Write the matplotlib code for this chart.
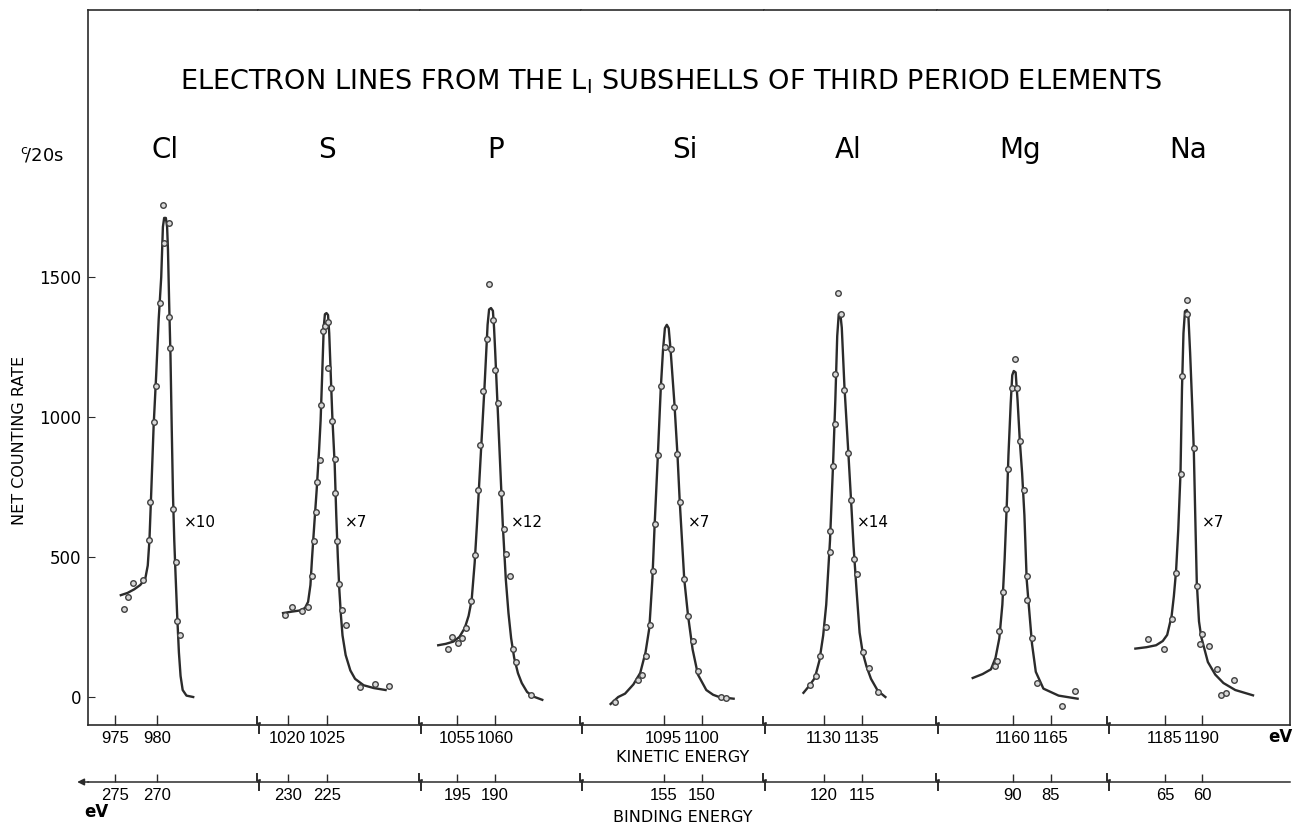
import matplotlib.pyplot as plt
from matplotlib.lines import Line2D

# elements, left to right
elements = ["Cl", "S", "P", "Si", "Al", "Mg", "Na"]
factors = ["×10", "×7", "×12", "×7", "×14", "", "×7"]
label_ke = [980.95, 1025.0, 1060.0, 1097.8, 1133.2, 1160.9, 1188.1]
factor_ke = [983.2, 1027.3, 1062.1, 1098.2, 1134.4, None, 1190.0]

# kinetic energy window shown for each element (eV)
ke_ranges = [(971.8, 992.0), (1016.2, 1036.9), (1050.1, 1071.3), (1084.1, 1108.2),
             (1122.1, 1144.9), (1150.0, 1172.5), (1177.3, 1201.9)]
ke_ticks = [[975, 980], [1020, 1025], [1055, 1060], [1095, 1100],
            [1130, 1135], [1160, 1165], [1185, 1190]]
be_ticks = [[275, 270], [230, 225], [195, 190], [155, 150],
            [120, 115], [90, 85], [65, 60]]
photon = 1250  # binding = photon - kinetic

# fitted curves (kinetic energy, counts)
cl_curve = [(975.7, 364), (976.5, 372), (977.3, 385), (978.0, 400), (978.6, 422), (978.9, 470),
            (979.1, 560), (979.3, 720), (979.6, 970), (979.9, 1150), (980.2, 1350), (980.5, 1500),
            (980.7, 1680), (980.85, 1712), (981.05, 1712), (981.2, 1680), (981.3, 1600),
            (981.45, 1400), (981.6, 1220), (981.75, 960), (981.9, 720), (982.05, 560),
            (982.2, 440), (982.4, 290), (982.6, 160), (982.8, 75), (983.05, 25), (983.5, 5),
            (984.3, 0)]
s_curve = [(1019.4, 300), (1020.5, 305), (1021.5, 309), (1022.2, 318), (1022.6, 340),
           (1022.9, 400), (1023.1, 494), (1023.4, 620), (1023.7, 741), (1024.0, 880),
           (1024.2, 988), (1024.4, 1150), (1024.6, 1321), (1024.75, 1368), (1024.95, 1372),
           (1025.15, 1365), (1025.3, 1300), (1025.5, 1150), (1025.7, 1000), (1026.0, 830),
           (1026.2, 650), (1026.4, 500), (1026.6, 380), (1026.8, 290), (1027.0, 220),
           (1027.4, 150), (1028.0, 95), (1028.6, 65), (1029.7, 42), (1031.0, 32), (1032.5, 25)]
p_curve = [(1052.5, 185), (1053.5, 190), (1054.5, 198), (1055.3, 215), (1056.0, 247),
           (1056.5, 290), (1056.9, 346), (1057.3, 480), (1057.6, 617), (1058.1, 864),
           (1058.6, 1111), (1059.0, 1330), (1059.2, 1385), (1059.45, 1390), (1059.7, 1380),
           (1059.85, 1320), (1060.0, 1235), (1060.5, 926), (1061.0, 617), (1061.4, 420),
           (1061.75, 300), (1062.1, 210), (1062.5, 140), (1063.0, 85), (1063.5, 50),
           (1064.2, 18), (1065.0, 2), (1066.2, -10)]
si_curve = [(1088.0, -25), (1089.0, 0), (1089.9, 12), (1091.0, 45), (1091.9, 86), (1092.6, 160),
            (1093.1, 247), (1093.5, 420), (1093.8, 617), (1094.2, 850), (1094.6, 1100),
            (1094.9, 1240), (1095.15, 1318), (1095.4, 1330), (1095.65, 1318), (1095.9, 1240),
            (1096.4, 1050), (1096.8, 868), (1097.1, 700), (1097.7, 420), (1098.2, 290),
            (1098.8, 170), (1099.5, 80), (1100.6, 25), (1101.5, 8), (1102.3, 0), (1104.2, -6)]
al_curve = [(1127.3, 15), (1128.0, 38), (1128.8, 68), (1129.4, 130), (1129.9, 220),
            (1130.3, 330), (1130.8, 560), (1131.2, 830), (1131.5, 1060), (1131.75, 1290),
            (1131.95, 1368), (1132.15, 1372), (1132.35, 1320), (1132.7, 1110), (1133.2, 880),
            (1133.6, 690), (1133.9, 540), (1134.3, 380), (1134.7, 230), (1135.1, 160),
            (1135.6, 110), (1136.2, 65), (1137.1, 22), (1138.1, 0)]
mg_curve = [(1154.7, 68), (1156.0, 82), (1157.1, 99), (1157.7, 140), (1158.2, 210),
            (1158.6, 330), (1158.9, 494), (1159.2, 700), (1159.4, 864), (1159.7, 1050),
            (1159.9, 1150), (1160.1, 1165), (1160.35, 1160), (1160.6, 1060), (1160.9, 914),
            (1161.2, 800), (1161.5, 650), (1161.8, 420), (1162.1, 320), (1162.5, 190),
            (1163.0, 90), (1164.0, 30), (1166.0, 5), (1168.5, -6)]
na_curve = [(1181.0, 173), (1182.5, 178), (1183.8, 185), (1184.7, 200), (1185.3, 222),
            (1185.9, 290), (1186.2, 360), (1186.5, 450), (1186.8, 600), (1187.1, 800),
            (1187.3, 1100), (1187.5, 1300), (1187.7, 1378), (1187.95, 1383), (1188.15, 1370),
            (1188.4, 1230), (1188.7, 1030), (1188.9, 880), (1189.1, 640), (1189.3, 410),
            (1189.6, 270), (1189.9, 215), (1190.4, 165), (1190.8, 125), (1191.8, 80),
            (1192.9, 50), (1194.5, 25), (1196.9, 6)]

# measured points (kinetic energy, counts)
cl_pts = [(976.1, 315), (976.5, 358), (977.2, 407), (978.3, 417), (979.1, 562), (979.2, 698),
          (979.6, 981), (979.9, 1111), (980.4, 1407), (980.8, 1623), (980.7, 1759),
          (981.4, 1694), (981.4, 1358), (981.6, 1247), (981.9, 673), (982.2, 484),
          (982.4, 272), (982.7, 220)]
s_pts = [(1019.7, 294), (1020.6, 323), (1021.8, 309), (1022.6, 323), (1023.1, 432),
         (1023.4, 556), (1023.6, 660), (1023.8, 768), (1024.1, 846), (1024.2, 1043),
         (1024.5, 1309), (1024.7, 1327), (1025.1, 1340), (1025.2, 1175), (1025.5, 1105),
         (1025.7, 988), (1026.0, 849), (1026.1, 728), (1026.3, 556), (1026.5, 405),
         (1026.9, 311), (1027.4, 259), (1029.2, 35), (1031.1, 46), (1032.9, 41)]
p_pts = [(1053.85, 170), (1054.35, 216), (1055.15, 194), (1055.6, 210), (1056.1, 247),
         (1056.85, 343), (1057.35, 506), (1057.75, 741), (1058.0, 901), (1058.4, 1093),
         (1058.9, 1278), (1059.15, 1475), (1059.75, 1346), (1060.0, 1167), (1060.4, 1049),
         (1060.75, 728), (1061.1, 599), (1061.4, 512), (1061.9, 432), (1062.35, 173),
         (1062.75, 126), (1064.75, 6)]
si_pts = [(1088.6, -19), (1091.6, 62), (1092.1, 80), (1092.7, 148), (1093.2, 259),
          (1093.6, 451), (1093.8, 620), (1094.2, 864), (1094.6, 1111), (1095.1, 1249),
          (1096.0, 1244), (1096.4, 1037), (1096.8, 868), (1097.1, 698), (1097.7, 420),
          (1098.2, 290), (1098.8, 200), (1099.5, 93), (1102.6, 0), (1103.2, -2)]
al_pts = [(1128.2, 43), (1129.0, 74), (1129.5, 148), (1130.3, 249), (1130.8, 593),
          (1130.8, 519), (1131.2, 827), (1131.5, 975), (1131.5, 1154), (1131.8, 1444),
          (1132.2, 1368), (1132.7, 1096), (1133.2, 871), (1133.6, 704), (1133.9, 494),
          (1134.4, 438), (1135.1, 160), (1136.0, 105), (1137.1, 19)]
mg_pts = [(1157.6, 111), (1157.9, 130), (1158.2, 235), (1158.7, 377), (1159.1, 673),
          (1159.4, 815), (1159.9, 1105), (1160.2, 1207), (1160.5, 1105), (1160.9, 914),
          (1161.4, 741), (1161.8, 346), (1161.9, 432), (1162.5, 210), (1163.1, 49),
          (1166.5, -31), (1168.2, 22)]
na_pts = [(1182.7, 207), (1184.9, 173), (1185.9, 278), (1186.5, 444), (1187.1, 796),
          (1187.3, 1148), (1188.0, 1420), (1188.0, 1368), (1188.9, 889), (1189.3, 395),
          (1189.7, 191), (1190.0, 225), (1191.0, 183), (1192.0, 99), (1194.3, 62),
          (1192.6, 6), (1193.2, 15)]

curves = [cl_curve, s_curve, p_curve, si_curve, al_curve, mg_curve, na_curve]
points = [cl_pts, s_pts, p_pts, si_pts, al_pts, mg_pts, na_pts]

ink = "#2b2b2b"
W, H = 1293, 827
fig = plt.figure(figsize=(W / 100, H / 100), dpi=100)
widths = [170, 162, 161, 183, 173, 171, 182]
gs = fig.add_gridspec(1, 7, width_ratios=widths, wspace=0,
                      left=88 / W, right=1290 / W, bottom=1 - 725 / H, top=1 - 10 / H)

be_loc = -57 / 715
axes = []
for i in range(7):
    ax = fig.add_subplot(gs[0, i])
    axes.append(ax)
    ax.set_xlim(*ke_ranges[i])
    ax.set_ylim(-100, 2455)

    cx, cy = zip(*curves[i])
    ax.plot(cx, cy, color=ink, lw=1.7, zorder=2)
    px, py = zip(*points[i])
    ax.plot(px, py, ls="none", marker="o", ms=4, mfc="#d8d8d8", mec="#404040",
            mew=1.0, zorder=3)

    ax.text(label_ke[i], 1953, elements[i], ha="center", va="center", fontsize=20)
    if factors[i]:
        ax.text(factor_ke[i], 625, factors[i], ha="left", va="center", fontsize=11)

    for side in ["top", "bottom", "left", "right"]:
        ax.spines[side].set_color(ink)
        ax.spines[side].set_linewidth(1.2)
    ax.spines["left"].set_visible(i == 0)
    ax.spines["right"].set_visible(i == 6)

    ax.set_xticks(ke_ticks[i])
    ax.set_xticklabels([str(t) for t in ke_ticks[i]], fontfamily="Liberation Sans",
                       fontsize=12)
    ax.tick_params(axis="x", direction="in", length=7, width=1, color=ink, pad=4)
    if i == 0:
        ax.set_yticks([0, 500, 1000, 1500])
        ax.tick_params(axis="y", direction="in", length=5, color=ink, labelsize=12, pad=5)
    else:
        ax.set_yticks([])

    sec = ax.secondary_xaxis(be_loc, functions=(lambda e: photon - e, lambda b: photon - b))
    sec.set_xticks(be_ticks[i])
    sec.set_xticklabels([str(t) for t in be_ticks[i]], fontfamily="Liberation Sans",
                        fontsize=12)
    sec.spines["bottom"].set_color(ink)
    sec.spines["bottom"].set_linewidth(1.1)
    sec.tick_params(direction="in", length=6, width=1, color=ink, pad=4)

# arrow at the left end of the binding energy axis
axes[0].annotate("", xy=(-0.08, be_loc), xytext=(0.02, be_loc),
                 xycoords="axes fraction", textcoords="axes fraction",
                 arrowprops=dict(arrowstyle="-|>", color=ink, lw=1.1, mutation_scale=10),
                 annotation_clip=False)

# zigzag break marks between panels on both energy axes
for ax in axes[:-1]:
    pos = ax.get_position()
    for yb in [pos.y0, pos.y0 + be_loc * pos.height]:
        x0 = pos.x1
        xs = [x0 - 1 / W, x0 - 1 / W, x0 + 2 / W, x0 + 1 / W, x0 + 1 / W]
        ys = [yb + 8 / H, yb + 1 / H, yb + 2 / H, yb - 1 / H, yb - 8 / H]
        fig.add_artist(Line2D(xs, ys, color=ink, lw=1.4, transform=fig.transFigure))

fig.text(671 / W, 1 - 82 / H,
         r"ELECTRON LINES FROM THE L$_{\mathrm{I}}$ SUBSHELLS OF THIRD PERIOD ELEMENTS",
         ha="center", va="center", fontsize=19.5)
fig.text(20 / W, 1 - 440 / H, "NET COUNTING RATE", rotation=90,
         ha="center", va="center", fontsize=11.5)
fig.text(42 / W, 1 - 155 / H, r"$^{\mathrm{c}}\!/\mathrm{20s}$", ha="center", va="center",
         fontsize=13)
fig.text(683 / W, 1 - 758 / H, "KINETIC ENERGY", ha="center", va="center", fontsize=11.5)
fig.text(683 / W, 1 - 818 / H, "BINDING ENERGY", ha="center", va="center", fontsize=11.5)
fig.text(1280 / W, 1 - 737 / H, "eV", ha="center", va="center", fontsize=12,
         fontweight="bold")
fig.text(96 / W, 1 - 812 / H, "eV", ha="center", va="center", fontsize=12,
         fontweight="bold")

fig.savefig("out.png", dpi=100)
